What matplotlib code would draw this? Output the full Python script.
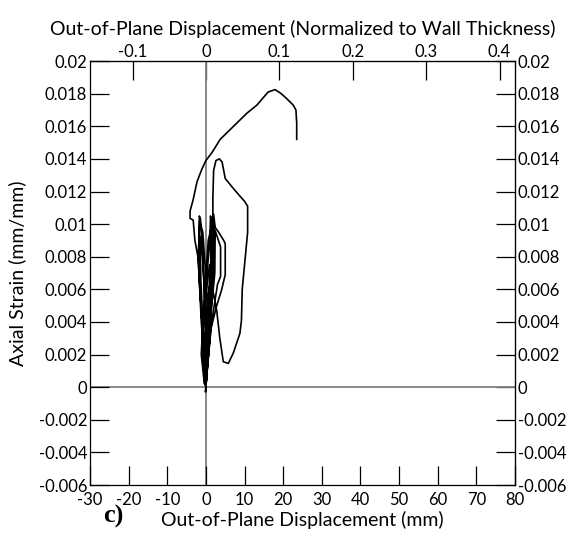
import numpy as np
import matplotlib.pyplot as plt
from matplotlib.ticker import FixedLocator, FixedFormatter

plt.rcParams['font.family'] = ['Lato', 'DejaVu Sans']

WALL_T = 190.0  # mm, for the normalized top axis

# small cycles near zero (displacement mm, strain x1e-3)
bundle_disp = [0.0, -0.1, 0.5, 0.8, 0.5, 0.2, -0.2, -0.3,
               0.3, 1.0, 1.3, 0.8, 0.0, -0.5, -0.2,
               0.5, 1.2, 1.6, 1.0, -0.5, -1.0, -0.3,
               -0.6, -1.3, -1.5, -1.1, -0.4, 0.2, 0.0,
               0.8, 1.5, 1.8, 1.5, 1.2, 1.0, 0.3, -0.8, -1.2, -0.4,
               -0.8, -1.5, -1.8, -1.7, -1.4, -1.0, -0.2, 0.3, 0.0,
               -1.2, -2.0, -1.6, -0.8, 0.2, 0.5, 0.1,
               0.6, 1.3, 1.2, 0.6, -0.4, -0.6, 0.0,
               1.0, 2.0, 2.2, 1.9, 1.5, 0.5, -0.5, 0.0]
bundle_strain = [0.0, -0.3, 2.0, 4.0, 5.0, 3.0, 1.0, 0.2,
                 2.5, 5.0, 6.5, 6.0, 3.5, 1.5, 0.1,
                 3.0, 6.0, 7.5, 7.5, 5.0, 2.5, 0.3,
                 3.0, 6.5, 9.0, 9.3, 6.0, 2.0, 0.2,
                 3.5, 6.5, 8.5, 10.0, 10.5, 9.0, 7.0, 4.0, 2.0, 0.2,
                 3.0, 6.0, 8.5, 10.5, 10.3, 8.5, 5.0, 2.0, 0.3,
                 4.0, 8.0, 10.2, 9.5, 6.0, 3.0, 0.5,
                 3.0, 7.0, 9.6, 9.0, 5.5, 2.5, 0.2,
                 4.0, 7.0, 9.8, 10.2, 8.5, 5.0, 2.0, 0.2]

# medium loops out to ~5 mm
mid_disp = [1.2, 2.8, 4.1, 5.0, 5.0, 4.6, 3.3, 2.4, 2.0, 1.8, 1.5, 0.5, -0.3, 0.0,
            1.5, 3.0, 3.8, 3.8, 2.8, 2.4, 2.3, 1.5, 0.5, 0.1]
mid_strain = [3.5, 5.0, 6.0, 6.9, 8.8, 9.0, 9.5, 9.8, 10.6, 10.0, 7.0, 4.0, 1.0, 0.2,
              4.0, 6.3, 6.8, 8.6, 9.3, 9.6, 7.0, 5.0, 2.0, 0.3]

# loop peaking at 0.014
loop_disp = [1.0, 1.5, 1.8, 1.8, 2.0, 2.6, 3.5, 4.2, 5.0, 6.7, 8.5, 10.0, 10.8, 10.8,
             10.2, 9.4, 9.2, 8.8, 7.1, 5.8, 4.5, 3.6, 2.8, 1.6, 0.8, 0.0, -0.2]
loop_strain = [3.0, 5.5, 9.0, 11.6, 13.3, 13.9, 14.0, 13.8, 12.8, 12.3, 11.8, 11.4, 11.1, 9.5,
               8.0, 6.0, 4.1, 3.3, 2.1, 1.46, 1.56, 3.0, 4.7, 6.2, 5.0, 2.0, 0.3]

# final excursion to the peak
final_disp = [-1.0, -1.7, -2.0, -2.85, -3.3, -4.1, -4.1, -3.3, -2.3, -1.0, 0.0, 1.6, 3.7,
              6.3, 10.6, 13.2, 16.1, 17.9, 19.5, 20.9, 22.6, 23.3, 23.5, 23.5]
final_strain = [4.0, 6.5, 7.9, 9.0, 10.25, 10.35, 10.8, 11.5, 12.6, 13.4, 13.9, 14.4, 15.2,
                15.8, 16.8, 17.3, 18.1, 18.25, 18.0, 17.7, 17.3, 17.0, 16.2, 15.2]

x_ticks = [-30, -20, -10, 0, 10, 20, 30, 40, 50, 60, 70, 80]
y_ticks = [-0.006, -0.004, -0.002, 0, 0.002, 0.004, 0.006, 0.008,
           0.01, 0.012, 0.014, 0.016, 0.018, 0.02]
y_labels = ['-0.006', '-0.004', '-0.002', '0', '0.002', '0.004', '0.006', '0.008',
            '0.01', '0.012', '0.014', '0.016', '0.018', '0.02']
top_ticks = [-0.1, 0, 0.1, 0.2, 0.3, 0.4]
top_labels = ['-0.1', '0', '0.1', '0.2', '0.3', '0.4']

disp = np.array(bundle_disp + mid_disp + loop_disp + final_disp)
strain = np.array(bundle_strain + mid_strain + loop_strain + final_strain) * 1e-3

fig = plt.figure(figsize=(5.77, 5.38), dpi=100)
ax = fig.add_axes([0.156, 0.0985, 0.7365, 0.788])

ax.axhline(0, color='#808080', lw=1.3, zorder=1)
ax.axvline(0, color='#808080', lw=1.3, zorder=1)
ax.plot(disp, strain, color='black', lw=1.2, zorder=3)

ax.set_xlim(-30, 80)
ax.set_ylim(-0.006, 0.02)
ax.xaxis.set_major_locator(FixedLocator(x_ticks))
ax.set_xticklabels([str(t) for t in x_ticks])
ax.yaxis.set_major_locator(FixedLocator(y_ticks))
ax.yaxis.set_major_formatter(FixedFormatter(y_labels))
ax.tick_params(direction='in', length=14, width=0.9, labelsize=12)
ax.tick_params(axis='x', pad=5)
ax.tick_params(axis='y', pad=2)
for s in ax.spines.values():
    s.set_linewidth(0.9)

ax.set_xlabel('Out-of-Plane Displacement (mm)', fontsize=14, labelpad=2)
ax.set_ylabel('Axial Strain (mm/mm)', fontsize=14, labelpad=9)

top = ax.secondary_xaxis('top', functions=(lambda x: x / WALL_T, lambda x: x * WALL_T))
top.xaxis.set_major_locator(FixedLocator(top_ticks))
top.xaxis.set_major_formatter(FixedFormatter(top_labels))
top.tick_params(direction='in', length=14, width=0.9, labelsize=12, pad=1)
top.set_xlabel('Out-of-Plane Displacement (Normalized to Wall Thickness)', fontsize=14, labelpad=6)

right = ax.secondary_yaxis('right')
right.yaxis.set_major_locator(FixedLocator(y_ticks))
right.yaxis.set_major_formatter(FixedFormatter(y_labels))
right.tick_params(direction='in', length=14, width=0.9, labelsize=12, pad=2)

fig.text(0.178, 0.018, 'c)', fontsize=19, fontweight='bold',
         family='Liberation Serif', va='bottom')

fig.savefig('out.png', dpi=100)
